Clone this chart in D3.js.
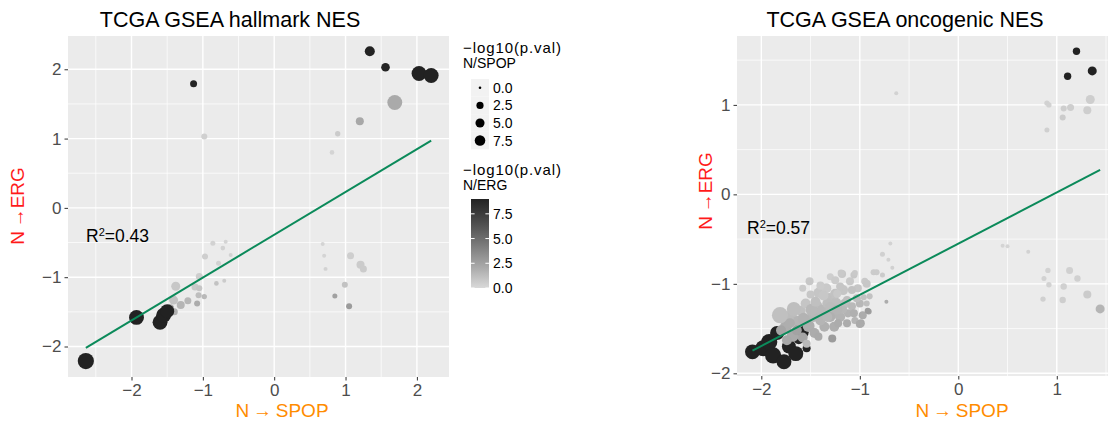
<!DOCTYPE html>
<html>
<head>
<meta charset="utf-8">
<script src="https://cdn.jsdelivr.net/npm/d3@7"></script>
<style>
  body { margin: 0; background: #fff; }
  svg { display: block; }
  text { font-family: "Liberation Sans", Arial, Helvetica, sans-serif; }
</style>
</head>
<body>
<svg id="chart" width="1111" height="426"></svg>
<script>
// ---- Hallmark gene sets: NES (N vs SPOP, N vs ERG) and -log10 p-values ----
const hallmarkNesSpop = [-0.86,-0.72,-0.68,-0.61,-0.97,-0.78,-1.05,-0.81,-0.70,-1.38,-1.11,-1.05,-1.06,-0.98,-1.21,-1.08,-1.31,-1.41,-1.40,-1.46,
  0.68,0.70,0.72,1.07,1.21,1.25,0.99,0.85,1.05,
  1.69,1.20,0.89,-0.98,0.81,
  1.34,1.56,2.03,2.20,-1.13,-2.64,-1.93,-1.60,-1.55,-1.50];
const hallmarkNesErg = [-0.51,-0.58,-0.49,-0.68,-0.70,-0.80,-0.99,-1.09,-1.05,-1.13,-1.14,-1.16,-1.26,-1.28,-1.34,-1.38,-1.40,-1.33,-1.50,-1.45,
  -0.52,-0.69,-0.88,-0.69,-0.82,-0.88,-1.11,-1.27,-1.42,
  1.52,1.25,1.07,1.03,0.80,
  2.26,2.03,1.94,1.91,1.79,-2.21,-1.58,-1.65,-1.55,-1.49];
const hallmarkLogpSpop = [0.7,0.5,0.23,0.23,1.4,0.7,2.3,0.5,0.23,4.9,2.3,1.4,1.4,0.9,2.3,1.4,3.5,4.9,2.3,3.5,
  0.23,0.23,0.23,2.3,3.5,2.3,1.4,0.7,1.4,
  18,3.5,0.9,1.4,0.5,
  6.5,4.3,18,18,2.3,22,18,18,18,15.5];
const hallmarkLogpErg = [0.3,0.3,0.2,0.3,0.5,0.3,0.5,1.0,0.6,0.8,0.7,0.9,1.2,1.4,1.5,2.0,1.6,1.0,1.8,2.2,
  0.2,0.2,0.3,0.5,0.6,0.6,1.0,2.5,2.8,
  2.1,2.2,0.6,0.4,0.2,
  9.0,8.8,9.0,9.0,8.9,9.0,9.0,9.0,9.0,9.0];

// ---- Oncogenic signatures ----
const oncogenicNesSpop = [-2.09,-1.98,-1.92,-1.88,-1.84,-1.77,-1.72,-1.65,-1.59,-1.54,-1.62,
  -1.75,-1.70,-1.62,-1.60,-1.55,-1.52,-1.47,-1.44,-1.42,-1.38,-1.36,-1.34,-1.31,-1.27,-1.26,-1.24,-1.20,
  -1.17,-1.15,-1.12,-1.10,-1.08,-1.02,-1.00,-0.97,-0.95,-1.58,-1.68,-1.80,-1.46,-1.50,-1.40,-1.30,-1.58,
  -0.69,-0.77,-0.71,-0.67,-0.73,-0.86,-0.83,-0.77,-1.06,-1.18,-0.93,-0.96,-0.90,-0.93,-0.91,-0.99,-1.05,-1.06,-1.13,-1.17,
  -1.25,-1.20,-1.08,-1.03,-1.28,-1.13,-1.22,-1.33,-1.30,-1.51,-1.67,-1.81,-1.74,-1.57,-1.49,-1.37,-1.45,-1.40,-1.33,-1.42,
  -1.54,-1.25,-1.23,-1.64,-1.71,-1.30,-1.23,-1.19,-1.05,-0.92,-1.00,
  0.45,0.50,0.71,0.91,0.87,0.92,0.86,1.13,1.21,1.07,1.06,1.31,1.44,
  -0.63,0.90,0.92,1.07,1.14,1.06,1.34,1.31,0.90,
  1.20,1.11,1.36];
const oncogenicNesErg = [-1.76,-1.72,-1.65,-1.80,-1.55,-1.87,-1.70,-1.78,-1.54,-1.72,-1.62,
  -1.48,-1.36,-1.42,-1.30,-1.22,-1.47,-1.36,-1.25,-1.10,-1.30,-1.48,-1.05,-1.17,-1.33,-1.48,-1.21,-1.37,
  -1.07,-1.22,-1.33,-0.97,-1.25,-1.05,-1.22,-1.35,-0.97,-1.60,-1.58,-1.52,-1.55,-1.12,-1.02,-0.92,-1.05,
  -0.55,-0.67,-0.73,-0.82,-1.20,-0.87,-0.87,-0.90,-0.90,-0.89,-1.00,-1.15,-1.14,-1.22,-1.31,-1.44,-1.41,-1.33,-1.18,-1.29,
  -1.11,-1.03,-1.07,-1.16,-1.61,-1.44,-1.44,-1.22,-1.37,-0.97,-1.28,-1.35,-1.63,-1.39,-1.29,-1.13,-1.20,-1.41,-1.37,-1.59,
  -1.67,-0.96,-1.11,-1.52,-1.44,-1.26,-1.29,-0.88,-0.88,-1.30,-1.45,
  -0.575,-0.58,-0.64,-0.85,-0.94,-1.01,-1.17,-0.85,-0.94,-1.03,-1.18,-1.12,-1.28,
  1.13,1.02,1.00,0.96,0.97,0.86,1.06,0.94,0.72,
  1.60,1.32,1.38];
const oncogenicLogpSpop = [18,22,22,22,15.5,18,15.5,18,15.5,3.5,6.5,
  10.5,10.5,10.5,6.5,6.5,10.5,10.5,10.5,6.5,10.5,6.5,6.5,10.5,6.5,6.5,6.5,6.5,
  6.5,6.5,3.5,3.5,3.5,3.5,3.5,3.5,2.3,6.5,10.5,6.5,6.5,3.5,3.5,2.3,2.3,
  0.23,0.7,0.23,0.23,0.23,1.4,1.4,0.7,2.3,3.5,3.5,1.4,1.4,1.4,1.4,3.5,2.3,3.5,3.5,3.5,
  6.5,3.5,3.5,3.5,3.5,3.5,3.5,6.5,6.5,3.5,15.5,22,6.5,10.5,10.5,6.5,6.5,6.5,6.5,3.5,
  3.5,3.5,3.5,6.5,6.5,6.5,6.5,2.3,1.4,1.4,3.5,
  0.23,0.23,0.23,0.9,0.7,0.9,0.9,2.3,1.7,1.7,1.7,3.5,4.9,
  0.23,0.9,0.9,1.4,2.3,1.4,4.9,3.5,0.7,
  2.7,2.7,4.9];
const oncogenicLogpErg = [9,9,9,9,9,9,9,9,9,9,8.7,
  1.9,1.3,1.6,1.1,0.9,1.9,1.5,1.2,0.9,1.4,1.8,0.7,1.1,1.6,1.9,1.2,1.7,
  0.9,1.3,1.7,0.7,1.4,0.9,1.5,2.0,0.7,2.3,2.1,2.3,2.0,0.8,0.6,0.5,0.6,
  0.3,0.4,0.3,0.4,2.0,0.6,0.6,0.6,0.8,0.8,0.8,1.0,1.0,1.2,2.5,2.2,1.6,1.8,1.2,1.5,
  1.0,0.9,1.0,1.2,2.8,2.0,2.0,1.2,1.8,0.8,1.2,1.1,2.2,1.7,1.4,0.8,1.1,1.6,1.5,2.1,
  1.4,0.6,0.7,2.4,1.9,1.3,1.6,0.7,0.7,2.8,2.1,
  0.2,0.2,0.3,0.3,0.3,0.3,0.4,0.4,0.4,0.4,0.5,0.6,1.6,
  0.3,0.3,0.3,0.5,0.5,0.6,0.5,0.5,0.4,
  9,9,9];

// ---- Linear fits and R² ----
const hallmarkFit = { slope: 0.618, intercept: -0.388, r2: 0.43 };
const oncogenicFit = { slope: 0.572, intercept: -0.551, r2: 0.57 };

// ---- Axis ticks and legend breaks ----
const hallmarkXTicks = [-2, -1, 0, 1, 2];
const hallmarkYTicks = [-2, -1, 0, 1, 2];
const oncogenicXTicks = [-2, -1, 0, 1];
const oncogenicYTicks = [-2, -1, 0, 1];
const sizeBreaks = [0, 2.5, 5, 7.5];
const colorBreaks = [0, 2.5, 5, 7.5];
const colorLimits = [0, 9];

const titles = ["TCGA GSEA hallmark NES", "TCGA GSEA oncogenic NES"];

// ---- Shared encodings ----
const sizeScale = d3.scaleSqrt().domain([0, 9]).range([1.3, 5.65]);
const colorScale = d3.scaleLinear().domain(colorLimits).range(["#d9d9d9", "#222222"])
  .interpolate(d3.interpolateLab).clamp(true);

const svg = d3.select("#chart");
const fmt = d3.format("");
const fmt1 = d3.format(".1f");

function drawPanel(cfg) {
  const x = d3.scaleLinear().domain(cfg.xDomain).range([cfg.left, cfg.right]);
  const y = d3.scaleLinear().domain(cfg.yDomain).range([cfg.bottom, cfg.top]);
  const g = svg.append("g");

  g.append("rect")
    .attr("x", cfg.left).attr("y", cfg.top)
    .attr("width", cfg.right - cfg.left).attr("height", cfg.bottom - cfg.top)
    .attr("fill", "#ebebeb");

  // minor grid at half steps
  const minorX = cfg.xTicks.map(t => t - 0.5).concat([cfg.xTicks[cfg.xTicks.length - 1] + 0.5])
    .filter(v => v > cfg.xDomain[0] && v < cfg.xDomain[1]);
  const minorY = cfg.yTicks.map(t => t - 0.5).concat([cfg.yTicks[cfg.yTicks.length - 1] + 0.5])
    .filter(v => v > cfg.yDomain[0] && v < cfg.yDomain[1]);

  g.selectAll(".mnx").data(minorX).join("line")
    .attr("x1", d => x(d)).attr("x2", d => x(d)).attr("y1", cfg.top).attr("y2", cfg.bottom)
    .attr("stroke", "#fff").attr("stroke-width", 0.7);
  g.selectAll(".mny").data(minorY).join("line")
    .attr("y1", d => y(d)).attr("y2", d => y(d)).attr("x1", cfg.left).attr("x2", cfg.right)
    .attr("stroke", "#fff").attr("stroke-width", 0.7);
  g.selectAll(".mjx").data(cfg.xTicks).join("line")
    .attr("x1", d => x(d)).attr("x2", d => x(d)).attr("y1", cfg.top).attr("y2", cfg.bottom)
    .attr("stroke", "#fff").attr("stroke-width", 1.4);
  g.selectAll(".mjy").data(cfg.yTicks).join("line")
    .attr("y1", d => y(d)).attr("y2", d => y(d)).attr("x1", cfg.left).attr("x2", cfg.right)
    .attr("stroke", "#fff").attr("stroke-width", 1.4);

  // axes
  const xAxis = d3.axisBottom(x).tickValues(cfg.xTicks).tickSize(3.5).tickPadding(3).tickFormat(fmt);
  const yAxis = d3.axisLeft(y).tickValues(cfg.yTicks).tickSize(3.5).tickPadding(3).tickFormat(fmt);
  const gx = g.append("g").attr("transform", `translate(0,${cfg.bottom})`).call(xAxis);
  const gy = g.append("g").attr("transform", `translate(${cfg.left},0)`).call(yAxis);
  [gx, gy].forEach(a => {
    a.select(".domain").remove();
    a.selectAll(".tick line").attr("stroke", "#333").attr("stroke-width", 1);
    a.selectAll(".tick text").attr("fill", "#4d4d4d").style("font-size", "17px")
      .style("font-family", "'Liberation Sans', Arial, sans-serif");
  });

  // points
  const idx = d3.range(cfg.xs.length);
  g.append("g").selectAll("circle").data(idx).join("circle")
    .attr("cx", i => x(cfg.xs[i]))
    .attr("cy", i => y(cfg.ys[i]))
    .attr("r", i => sizeScale(cfg.sizes[i]))
    .attr("fill", i => colorScale(cfg.colors[i]));

  // regression line across the data range
  const [xmin, xmax] = d3.extent(cfg.xs);
  g.append("line")
    .attr("x1", x(xmin)).attr("y1", y(cfg.fit.intercept + cfg.fit.slope * xmin))
    .attr("x2", x(xmax)).attr("y2", y(cfg.fit.intercept + cfg.fit.slope * xmax))
    .attr("stroke", "#0b8a5a").attr("stroke-width", 2);

  // R² annotation
  const rt = g.append("text").attr("x", cfg.r2Pos[0]).attr("y", cfg.r2Pos[1])
    .style("font-size", "17.5px").attr("fill", "#000");
  rt.append("tspan").text("R");
  rt.append("tspan").text("2").attr("dy", -6).style("font-size", "11px");
  rt.append("tspan").text("=" + d3.format(".2f")(cfg.fit.r2)).attr("dy", 6);

  // titles
  g.append("text").attr("x", cfg.titleX).attr("y", 27).attr("text-anchor", "middle")
    .style("font-size", "21.5px").attr("fill", "#000").text(cfg.title);
  g.append("text").attr("x", cfg.xLabelX).attr("y", 417).attr("text-anchor", "middle")
    .style("font-size", "19px").attr("fill", "#ff8c00").text("N\u2009\u2192\u2009SPOP");
  g.append("text").attr("transform", `translate(${cfg.yLabelX},${cfg.yLabelY}) rotate(-90)`)
    .attr("text-anchor", "middle")
    .style("font-size", "19px").attr("fill", "#ff1a1a").text("N\u2009\u2192ERG");
}

drawPanel({
  left: 68, right: 449, top: 36, bottom: 377,
  xDomain: [-2.89, 2.45], yDomain: [-2.44, 2.48],
  xTicks: hallmarkXTicks, yTicks: hallmarkYTicks,
  xs: hallmarkNesSpop, ys: hallmarkNesErg, sizes: hallmarkLogpSpop, colors: hallmarkLogpErg,
  fit: hallmarkFit, r2Pos: [86, 242],
  title: titles[0], titleX: 230, xLabelX: 282, yLabelX: 24, yLabelY: 206
});

drawPanel({
  left: 737, right: 1108, top: 36, bottom: 376,
  xDomain: [-2.247, 1.52], yDomain: [-2.03, 1.77],
  xTicks: oncogenicXTicks, yTicks: oncogenicYTicks,
  xs: oncogenicNesSpop, ys: oncogenicNesErg, sizes: oncogenicLogpSpop, colors: oncogenicLogpErg,
  fit: oncogenicFit, r2Pos: [747, 234],
  title: titles[1], titleX: 905, xLabelX: 962, yLabelX: 712, yLabelY: 191
});

// ---- Legends ----
const lg = svg.append("g");
const legX = 463, keyX = 471, keyW = 18;

lg.append("text").attr("x", legX).attr("y", 53).style("font-size", "15px")
  .attr("textLength", 98).attr("lengthAdjust", "spacing").text("\u2212log10(p.val)");
lg.append("text").attr("x", legX).attr("y", 68).style("font-size", "14px").text("N/SPOP");
const keyH = 17.6, keyTop = 79;
sizeBreaks.forEach((b, i) => {
  const cy = keyTop + keyH * i + keyH / 2;
  lg.append("rect").attr("x", keyX).attr("y", keyTop + keyH * i).attr("width", keyW).attr("height", keyH)
    .attr("fill", "#f2f2f2");
  lg.append("circle").attr("cx", keyX + keyW / 2).attr("cy", cy).attr("r", sizeScale(b)).attr("fill", "#000");
  lg.append("text").attr("x", 493).attr("y", cy + 5).style("font-size", "14px").text(fmt1(b));
});

lg.append("text").attr("x", legX).attr("y", 175).style("font-size", "15px")
  .attr("textLength", 98).attr("lengthAdjust", "spacing").text("\u2212log10(p.val)");
lg.append("text").attr("x", legX).attr("y", 190).style("font-size", "14px").text("N/ERG");

const barTop = 199, barBottom = 288;
const cbScale = d3.scaleLinear().domain(colorLimits).range([barBottom, barTop]);
const grad = svg.append("defs").append("linearGradient").attr("id", "ergGrad")
  .attr("x1", 0).attr("y1", 1).attr("x2", 0).attr("y2", 0);
d3.range(0, 1.0001, 0.1).forEach(t => {
  grad.append("stop").attr("offset", t).attr("stop-color", colorScale(colorLimits[0] + t * (colorLimits[1] - colorLimits[0])));
});
lg.append("rect").attr("x", keyX).attr("y", barTop).attr("width", keyW).attr("height", barBottom - barTop)
  .attr("fill", "url(#ergGrad)");
colorBreaks.forEach(b => {
  const yy = cbScale(b);
  lg.append("line").attr("x1", keyX).attr("x2", keyX + 3.6).attr("y1", yy).attr("y2", yy)
    .attr("stroke", "#fff").attr("stroke-width", 1);
  lg.append("line").attr("x1", keyX + keyW - 3.6).attr("x2", keyX + keyW).attr("y1", yy).attr("y2", yy)
    .attr("stroke", "#fff").attr("stroke-width", 1);
  lg.append("text").attr("x", 493).attr("y", yy + 5).style("font-size", "14px").text(fmt1(b));
});
</script>
</body>
</html>
